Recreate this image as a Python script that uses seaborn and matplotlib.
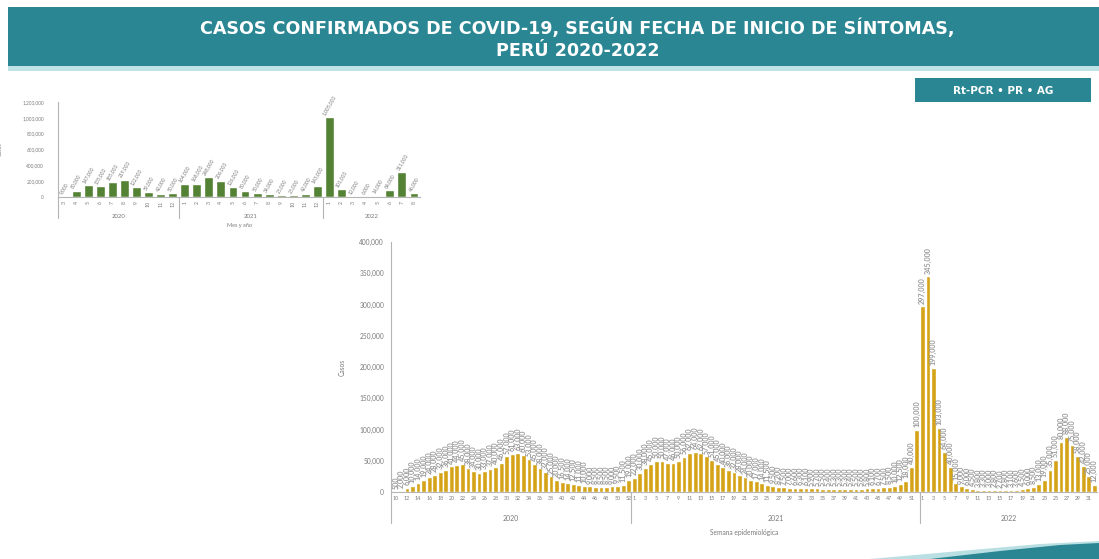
import matplotlib
matplotlib.use("Agg")
import matplotlib.pyplot as plt
import matplotlib.transforms as mtransforms
from matplotlib.patches import Rectangle, Polygon
import pandas as pd
import seaborn as sns

# ---------------- DATA ----------------
# Monthly cases (top chart)
months_2020 = ["3", "4", "5", "6", "7", "8", "9", "10", "11", "12"]
months_2021 = ["1", "2", "3", "4", "5", "6", "7", "8", "9", "10", "11", "12"]
months_2022 = ["1", "2", "3", "4", "5", "6", "7", "8"]
monthly_2020 = [9000, 80000, 147000, 135000, 185000, 219000, 122000, 59000, 42000, 50000]
monthly_2021 = [164000, 168000, 248000, 206000, 126000, 80000, 50000, 34000, 25000, 25000, 42000, 143000]
monthly_2022 = [1005000, 101000, 12000, 6000, 14000, 84000, 311000, 46000]

# Weekly cases (bottom chart), epidemiological weeks
weeks_2020 = list(range(10, 53))
weekly_2020 = [500, 2000, 6000, 10000, 14000, 19000, 24000, 28000, 32000, 36000,
               41000, 44000, 45000, 38000, 34000, 30000, 33000, 37000, 40000, 46000,
               57000, 61000, 63000, 60000, 53000, 45000, 38000, 32000, 25000, 20000,
               16500, 14000, 12500, 11000, 10000, 9000, 8500, 8500, 8500, 9000,
               9500, 11500, 19000]
weeks_2021 = list(range(1, 53))
weekly_2021 = [22000, 30000, 38000, 45000, 50000, 50000, 47000, 46000, 50000, 56000,
               62000, 64000, 62000, 57000, 51000, 45000, 40000, 36000, 32000, 28000,
               24000, 20000, 17000, 14000, 11500, 9500, 8200, 7500, 7000, 6600,
               6300, 6100, 5900, 5700, 5500, 5400, 5300, 5300, 5300, 5400,
               5500, 5600, 5800, 6100, 6700, 7500, 8500, 10000, 12500, 18000,
               40000, 100000]
weeks_2022 = list(range(1, 33))
weekly_2022 = [297000, 345000, 199000, 103000, 64000, 40000, 15000, 9000, 6000, 4500,
               3800, 3300, 3000, 2800, 2700, 2800, 3100, 3600, 4500, 6000,
               8500, 13000, 19000, 35000, 51000, 80000, 88000, 75000, 58000, 42000,
               25000, 12000]

years = ["2020", "2021", "2022"]
title_line1 = "CASOS CONFIRMADOS DE COVID-19, SEGÚN FECHA DE INICIO DE SÍNTOMAS,"
title_line2 = "PERÚ 2020-2022"
badge_text = "Rt-PCR • PR • AG"

# ---------------- STYLE ----------------
TEAL = "#2a8693"
GREEN = "#548235"
GOLD = "#d4a318"
GREY_TXT = "#7a7a7a"
AXIS_COL = "#b5b5b5"

sns.set_style("white")
plt.rcParams['font.family'] = ['Lato', 'DejaVu Sans']

W, H = 1099, 559
fig = plt.figure(figsize=(W / 100, H / 100), dpi=100)
fig.patch.set_facecolor("white")


def fx(px):
    return px / W


def fy(py):
    return 1 - py / H


# banner
fig.add_artist(Rectangle((fx(8), fy(66)), fx(1099 - 8), 59 / H, transform=fig.transFigure,
                         facecolor=TEAL, edgecolor="none", zorder=0))
fig.add_artist(Rectangle((fx(8), fy(71)), fx(1099 - 8), 5 / H, transform=fig.transFigure,
                         facecolor="#bfe2e6", edgecolor="none", zorder=0))
fig.text(fx(577), fy(28), title_line1, ha="center", va="center", color="white",
         fontsize=12.6, fontweight="bold", family=["DejaVu Sans"])
fig.text(fx(578), fy(51), title_line2, ha="center", va="center", color="white",
         fontsize=12.6, fontweight="bold", family=["DejaVu Sans"])

# badge
fig.add_artist(Rectangle((fx(915), fy(102)), fx(176), 24 / H, transform=fig.transFigure,
                         facecolor=TEAL, edgecolor="none"))
fig.text(fx(1003), fy(90.5), badge_text, ha="center", va="center", color="white",
         fontsize=7.5, fontweight="bold", family=["DejaVu Sans"])

# bottom-right swoosh
fig.add_artist(Polygon([(fx(870), fy(559)), (fx(960), fy(551)), (fx(1040), fy(544)),
                        (fx(1099), fy(541)), (fx(1099), fy(559))], closed=True,
                       transform=fig.transFigure, facecolor="#b9dfe3", edgecolor="none"))
fig.add_artist(Polygon([(fx(930), fy(559)), (fx(1000), fy(551)), (fx(1060), fy(545)),
                        (fx(1099), fy(543)), (fx(1099), fy(559))], closed=True,
                       transform=fig.transFigure, facecolor=TEAL, edgecolor="none"))


def style_axes(ax):
    for s in ["top", "right"]:
        ax.spines[s].set_visible(False)
    for s in ["left", "bottom"]:
        ax.spines[s].set_color(AXIS_COL)
        ax.spines[s].set_linewidth(0.8)
    ax.set_facecolor("none")


# ---------------- TOP CHART (monthly) ----------------
m_labels = months_2020 + months_2021 + months_2022
m_values = monthly_2020 + monthly_2021 + monthly_2022
m_year = [years[0]] * len(months_2020) + [years[1]] * len(months_2021) + [years[2]] * len(months_2022)
dfm = pd.DataFrame({"key": [f"{y}-{m}" for y, m in zip(m_year, m_labels)],
                    "mes": m_labels, "casos": m_values, "anio": m_year})

ax1 = fig.add_axes([fx(58), fy(197), fx(420 - 58), 95 / H])
sns.barplot(data=dfm, x="key", y="casos", color=GREEN, saturation=1, width=0.74,
            errorbar=None, ax=ax1)
style_axes(ax1)
ax1.set_xlim(-0.5, len(dfm) - 0.5)
ax1.set_ylim(0, 1200000)
ax1.set_yticks(range(0, 1200001, 200000))
ax1.set_yticklabels([f"{v:,}" for v in range(0, 1200001, 200000)], fontsize=3.4, color=GREY_TXT)
ax1.set_xticks(range(len(dfm)))
ax1.set_xticklabels(dfm["mes"], rotation=90, fontsize=3.8, color=GREY_TXT)
ax1.tick_params(axis="both", length=0, pad=3)
ax1.tick_params(axis="y", pad=10)
ax1.set_xlabel("")
ax1.set_ylabel("Casos", fontsize=3.8, color=GREY_TXT, labelpad=14)
ax1.bar_label(ax1.containers[0], labels=[f"{v:,}" for v in m_values], fontsize=3.6,
              color=GREY_TXT, rotation=60, padding=1)

tr1 = mtransforms.blended_transform_factory(ax1.transData, ax1.transAxes)
n20, n21 = len(months_2020), len(months_2021)
for xv in [-0.5, n20 - 0.5, n20 + n21 - 0.5]:
    ax1.plot([xv, xv], [0, -0.22], transform=tr1, color=AXIS_COL, lw=0.8, clip_on=False)
starts = [0, n20, n20 + n21]
ends = [n20 - 1, n20 + n21 - 1, len(dfm) - 1]
for y, s, e in zip(years, starts, ends):
    ax1.text((s + e) / 2, -0.21, y, transform=tr1, ha="center", va="center",
             fontsize=4.3, color=GREY_TXT)
ax1.text(len(dfm) / 2 - 0.5, -0.295, "Mes y año", transform=tr1, ha="center", va="center",
         fontsize=4.0, color=GREY_TXT)

# ---------------- BOTTOM CHART (weekly) ----------------
w_labels = [str(w) for w in weeks_2020 + weeks_2021 + weeks_2022]
w_values = weekly_2020 + weekly_2021 + weekly_2022
w_year = [years[0]] * len(weeks_2020) + [years[1]] * len(weeks_2021) + [years[2]] * len(weeks_2022)
dfw = pd.DataFrame({"key": [f"{y}-{w}" for y, w in zip(w_year, w_labels)],
                    "semana": w_labels, "casos": w_values, "anio": w_year})

XL, XR = -0.88, 126.5
ax2 = fig.add_axes([fx(391), fy(492), fx(1097 - 391), 250 / H])
sns.barplot(data=dfw, x="key", y="casos", color=GOLD, saturation=1, width=0.86,
            errorbar=None, ax=ax2)
style_axes(ax2)
ax2.set_xlim(XL, XR)
ax2.set_ylim(0, 400000)
ax2.set_yticks(range(0, 400001, 50000))
ax2.set_yticklabels([f"{v:,}" for v in range(0, 400001, 50000)], fontsize=4.8, color=GREY_TXT)
tick_pos = [i for i in range(len(dfw)) if int(dfw["semana"][i]) % 2 == (0 if dfw["anio"][i] == "2020" else 1)]
ax2.set_xticks(tick_pos)
ax2.set_xticklabels([dfw["semana"][i] for i in tick_pos], fontsize=3.8, color=GREY_TXT)
ax2.tick_params(axis="both", length=0, pad=3)
ax2.tick_params(axis="y", pad=5)
ax2.set_xlabel("")
ax2.set_ylabel("Casos", fontsize=4.8, color=GREY_TXT, labelpad=10)
ax2.bar_label(ax2.containers[0], labels=[f"{v:,}" for v in w_values], fontsize=5.2,
              color="#9a9a9a", rotation=90, padding=2, fontweight="bold")

tr2 = mtransforms.blended_transform_factory(ax2.transData, ax2.transAxes)
m20, m21 = len(weeks_2020), len(weeks_2021)
for xv in [XL, m20 - 0.5, m20 + m21 - 0.5]:
    ax2.plot([xv, xv], [0, -0.125], transform=tr2, color=AXIS_COL, lw=0.8, clip_on=False)
centers = [(XL + m20 - 0.5) / 2, m20 + m21 / 2 - 0.5, (m20 + m21 - 0.5 + XR) / 2]
for y, c in zip(years, centers):
    ax2.text(c, -0.107, y, transform=tr2, ha="center", va="center", fontsize=5.0, color=GREY_TXT)
ax2.text(0.5, -0.16, "Semana epidemiológica", transform=ax2.transAxes, ha="center",
         va="center", fontsize=4.8, color=GREY_TXT)

fig.savefig("out.png", dpi=100, facecolor="white")
